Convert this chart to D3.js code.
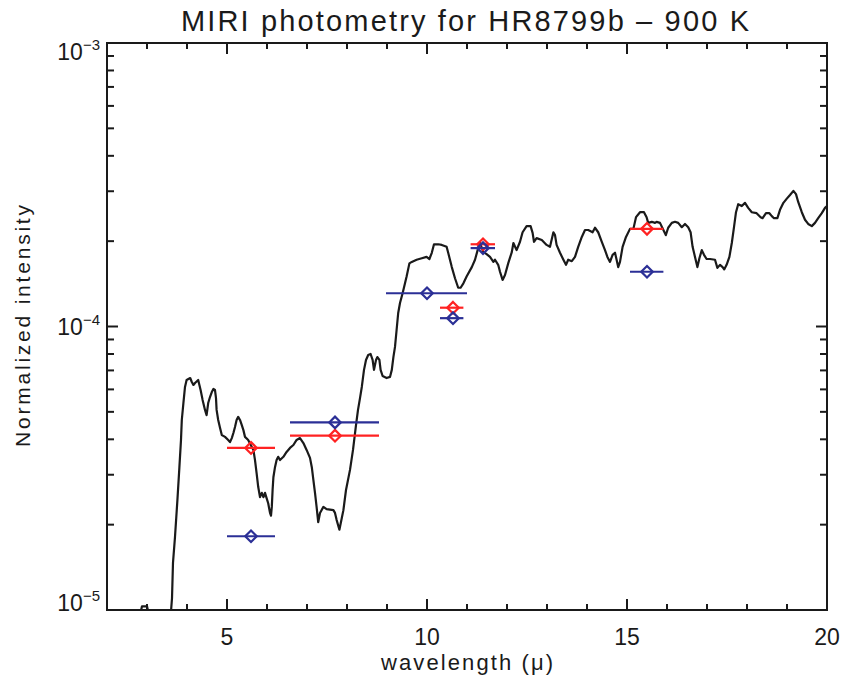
<!DOCTYPE html>
<html>
<head>
<meta charset="utf-8">
<script src="https://cdn.jsdelivr.net/npm/d3@7"></script>
<style>
  body { margin: 0; background: #fff; }
  svg { display: block; font-family: "Liberation Sans", Arial, sans-serif; }
</style>
</head>
<body>
<svg id="chart" width="844" height="683"></svg>
<script>
// model spectrum, 900 K (wavelength in micron, normalized intensity)
var wavelength = [2.0, 2.825, 2.875, 3.0, 3.05, 3.575, 3.625, 3.65, 3.70, 3.76, 3.81, 3.85, 3.87, 3.91, 3.95, 3.99,
  4.08, 4.12, 4.16, 4.20, 4.28, 4.31, 4.34, 4.39, 4.45, 4.49, 4.53, 4.575, 4.62, 4.66, 4.70, 4.725, 4.74, 4.78,
  4.825, 4.87, 4.95, 5.03, 5.075, 5.12, 5.16, 5.20, 5.24, 5.28, 5.325, 5.37, 5.41, 5.45, 5.53, 5.62, 5.66, 5.70,
  5.74, 5.78, 5.825, 5.87, 5.91, 5.95, 5.99, 6.03, 6.075, 6.10, 6.12, 6.14, 6.16, 6.20, 6.24, 6.28, 6.325, 6.41,
  6.49, 6.575, 6.66, 6.74, 6.825, 6.91, 6.99, 7.075, 7.12, 7.16, 7.20, 7.24, 7.28, 7.325, 7.41, 7.49, 7.66, 7.70,
  7.74, 7.81, 7.87, 7.91, 7.975, 8.075, 8.15, 8.225, 8.275, 8.325, 8.37, 8.425, 8.475, 8.53, 8.59, 8.64, 8.675,
  8.725, 8.76, 8.81, 8.84, 8.89, 8.99, 9.075, 9.12, 9.16, 9.20, 9.24, 9.28, 9.325, 9.39, 9.45, 9.49, 9.56, 9.62,
  9.74, 9.87, 9.99, 10.06, 10.12, 10.175, 10.28, 10.37, 10.49, 10.53, 10.62, 10.70, 10.78, 10.84, 10.91, 10.99,
  11.12, 11.20, 11.28, 11.325, 11.41, 11.49, 11.575, 11.66, 11.70, 11.78, 11.825, 11.89, 11.95, 12.03, 12.12,
  12.16, 12.24, 12.325, 12.39, 12.49, 12.59, 12.64, 12.675, 12.74, 12.87, 12.99, 13.075, 13.16, 13.20, 13.24,
  13.325, 13.41, 13.475, 13.53, 13.62, 13.70, 13.78, 13.87, 13.95, 14.03, 14.14, 14.20, 14.28, 14.37, 14.45,
  14.51, 14.575, 14.64, 14.70, 14.74, 14.78, 14.825, 14.89, 14.975, 15.075, 15.16, 15.225, 15.325, 15.425, 15.49,
  15.53, 15.62, 15.70, 15.74, 15.825, 15.91, 15.97, 16.03, 16.12, 16.20, 16.28, 16.37, 16.45, 16.53, 16.59, 16.64,
  16.70, 16.76, 16.81, 16.87, 16.925, 16.99, 17.075, 17.20, 17.26, 17.325, 17.39, 17.43, 17.49, 17.56, 17.62,
  17.675, 17.725, 17.78, 17.87, 17.95, 18.03, 18.12, 18.24, 18.34, 18.39, 18.475, 18.56, 18.62, 18.675, 18.76,
  18.825, 18.91, 18.99, 19.075, 19.16, 19.225, 19.28, 19.37, 19.45, 19.53, 19.62, 19.70, 19.78, 19.87, 19.95, 20.0];
var intensity = [7.8e-6, 9.6e-6, 1.03e-5, 1.03e-5, 9.6e-6, 8.9e-6, 1.10e-5, 1.47e-5, 1.81e-5, 2.44e-5, 3.19e-5,
  3.98e-5, 4.68e-5, 5.37e-5, 6.12e-5, 6.48e-5, 6.58e-5, 6.37e-5, 6.22e-5, 6.32e-5, 6.48e-5, 6.22e-5, 5.97e-5,
  5.51e-5, 5.08e-5, 4.87e-5, 5.37e-5, 5.64e-5, 5.87e-5, 6.02e-5, 5.97e-5, 5.59e-5, 5.08e-5, 4.68e-5, 4.39e-5,
  4.14e-5, 4.08e-5, 3.98e-5, 3.91e-5, 4.04e-5, 4.21e-5, 4.42e-5, 4.68e-5, 4.80e-5, 4.68e-5, 4.49e-5, 4.31e-5,
  4.08e-5, 3.98e-5, 3.76e-5, 3.67e-5, 3.38e-5, 3.04e-5, 2.72e-5, 2.50e-5, 2.59e-5, 2.50e-5, 2.59e-5, 2.48e-5,
  2.38e-5, 2.20e-5, 2.15e-5, 2.31e-5, 2.65e-5, 2.94e-5, 3.19e-5, 3.38e-5, 3.47e-5, 3.38e-5, 3.47e-5, 3.61e-5,
  3.73e-5, 3.82e-5, 3.98e-5, 4.04e-5, 3.88e-5, 3.67e-5, 3.44e-5, 3.19e-5, 2.87e-5, 2.59e-5, 2.31e-5, 2.04e-5,
  2.20e-5, 2.31e-5, 2.27e-5, 2.25e-5, 2.20e-5, 2.08e-5, 1.92e-5, 2.11e-5, 2.25e-5, 2.65e-5, 3.12e-5, 3.67e-5,
  4.49e-5, 5.08e-5, 5.59e-5, 6.12e-5, 7.03e-5, 7.62e-5, 7.93e-5, 8.00e-5, 7.62e-5, 7.03e-5, 7.62e-5, 7.80e-5,
  7.62e-5, 7.03e-5, 6.69e-5, 6.58e-5, 6.64e-5, 7.03e-5, 7.80e-5, 8.47e-5, 9.72e-5, 1.116e-4, 1.21e-4, 1.31e-4,
  1.42e-4, 1.50e-4, 1.67e-4, 1.69e-4, 1.72e-4, 1.74e-4, 1.76e-4, 1.73e-4, 1.82e-4, 1.95e-4, 1.95e-4, 1.94e-4,
  1.91e-4, 1.82e-4, 1.62e-4, 1.48e-4, 1.37e-4, 1.37e-4, 1.42e-4, 1.50e-4, 1.62e-4, 1.72e-4, 1.89e-4, 1.97e-4,
  1.83e-4, 1.80e-4, 1.76e-4, 1.69e-4, 1.72e-4, 1.65e-4, 1.56e-4, 1.46e-4, 1.52e-4, 1.67e-4, 1.83e-4, 1.97e-4,
  1.86e-4, 1.99e-4, 2.15e-4, 2.26e-4, 2.26e-4, 2.14e-4, 1.99e-4, 2.05e-4, 2.02e-4, 1.94e-4, 1.91e-4, 2.15e-4,
  2.10e-4, 1.94e-4, 1.82e-4, 1.72e-4, 1.65e-4, 1.72e-4, 1.70e-4, 1.76e-4, 1.91e-4, 2.07e-4, 2.19e-4, 2.19e-4,
  2.15e-4, 2.23e-4, 2.15e-4, 1.99e-4, 1.86e-4, 1.76e-4, 1.69e-4, 1.79e-4, 1.82e-4, 1.72e-4, 1.62e-4, 1.69e-4,
  1.91e-4, 2.07e-4, 2.21e-4, 2.21e-4, 2.43e-4, 2.53e-4, 2.53e-4, 2.43e-4, 2.32e-4, 2.34e-4, 2.32e-4, 2.34e-4,
  2.32e-4, 2.19e-4, 2.10e-4, 2.23e-4, 2.32e-4, 2.34e-4, 2.32e-4, 2.24e-4, 2.30e-4, 2.24e-4, 2.15e-4, 1.91e-4,
  1.76e-4, 1.62e-4, 1.74e-4, 1.86e-4, 1.79e-4, 1.73e-4, 1.73e-4, 1.72e-4, 1.61e-4, 1.65e-4, 1.62e-4, 1.59e-4,
  1.65e-4, 1.76e-4, 1.97e-4, 2.24e-4, 2.53e-4, 2.70e-4, 2.66e-4, 2.73e-4, 2.62e-4, 2.53e-4, 2.51e-4, 2.43e-4,
  2.41e-4, 2.51e-4, 2.51e-4, 2.45e-4, 2.41e-4, 2.41e-4, 2.58e-4, 2.73e-4, 2.82e-4, 2.91e-4, 3.01e-4, 2.93e-4,
  2.75e-4, 2.53e-4, 2.38e-4, 2.30e-4, 2.26e-4, 2.32e-4, 2.41e-4, 2.51e-4, 2.62e-4, 2.66e-4];

// MIRI filters: centre and band edges (micron)
var filterCenter = [5.6, 7.7, 10.0, 10.65, 11.4, 15.5];
var filterLo     = [5.0, 6.575, 8.975, 10.325, 11.09, 15.075];
var filterHi     = [6.2, 8.8, 11.0, 10.91, 11.7, 15.91];
// photometry, two series (null = not plotted)
var redFlux  = [3.73e-5, 4.12e-5, null, 1.165e-4, 1.95e-4, 2.21e-4];
var blueFlux = [1.82e-5, 4.59e-5, 1.31e-4, 1.07e-4, 1.89e-4, 1.56e-4];

var xTickLabels = [5, 10, 15, 20];
var yDecades = [1e-5, 1e-4, 1e-3];

var svg = d3.select("#chart"),
    width = 844,
    height = 683,
    margin = {top: 43, right: 17, bottom: 73, left: 107},
    ink = "#1a1a1a";

var x = d3.scaleLinear().domain([2, 20]).range([margin.left, width - margin.right]);
var y = d3.scaleLog().domain([1e-5, 1e-3]).range([height - margin.bottom, margin.top]);

svg.append("defs").append("clipPath").attr("id", "plotclip")
  .append("rect")
    .attr("x", x(2)).attr("y", y(1e-3))
    .attr("width", x(20) - x(2)).attr("height", y(1e-5) - y(1e-3));

// spectrum
var spectrum = wavelength.map(function(w, i) { return [w, intensity[i]]; });
svg.append("path")
    .datum(spectrum)
    .attr("clip-path", "url(#plotclip)")
    .attr("fill", "none")
    .attr("stroke", ink)
    .attr("stroke-width", 2.2)
    .attr("stroke-linejoin", "round")
    .attr("d", d3.line()
      .x(function(d) { return x(d[0]); })
      .y(function(d) { return y(d[1]); }));

function drawPhot(values, colour) {
  var g = svg.append("g").attr("stroke", colour).attr("fill", "none").attr("stroke-width", 2.2);
  values.forEach(function(v, i) {
    if (v == null) return;
    var cx = x(filterCenter[i]), cy = y(v);
    g.append("line")
      .attr("x1", x(filterLo[i])).attr("x2", x(filterHi[i]))
      .attr("y1", cy).attr("y2", cy);
    g.append("path")
      .attr("d", d3.symbol().type(d3.symbolDiamond2).size(85)())
      .attr("transform", "translate(" + cx + "," + cy + ")");
  });
}
drawPhot(redFlux, "#ff2222");
drawPhot(blueFlux, "#2b2f96");

// box with inward ticks
var axes = svg.append("g").attr("stroke", ink).attr("stroke-width", 2);
axes.append("rect")
    .attr("x", x(2)).attr("y", y(1e-3))
    .attr("width", x(20) - x(2)).attr("height", y(1e-5) - y(1e-3))
    .attr("fill", "none");

d3.range(3, 20).forEach(function(t) {
  var len = t % 5 === 0 ? 11 : 6;
  axes.append("line").attr("x1", x(t)).attr("x2", x(t)).attr("y1", y(1e-5)).attr("y2", y(1e-5) - len);
  axes.append("line").attr("x1", x(t)).attr("x2", x(t)).attr("y1", y(1e-3)).attr("y2", y(1e-3) + len);
});

y.ticks().forEach(function(t) {
  var major = Math.abs(Math.log10(t) - Math.round(Math.log10(t))) < 1e-6;
  if (major) return;
  var len = 7;
  axes.append("line").attr("x1", x(2)).attr("x2", x(2) + len).attr("y1", y(t)).attr("y2", y(t));
  axes.append("line").attr("x1", x(20)).attr("x2", x(20) - len).attr("y1", y(t)).attr("y2", y(t));
});
// the middle decade gets a long tick
[1e-4].forEach(function(t) {
  axes.append("line").attr("x1", x(2)).attr("x2", x(2) + 11).attr("y1", y(t)).attr("y2", y(t));
  axes.append("line").attr("x1", x(20)).attr("x2", x(20) - 11).attr("y1", y(t)).attr("y2", y(t));
});

// tick labels
svg.append("g").selectAll("text")
  .data(xTickLabels)
  .join("text")
    .attr("x", function(d) { return x(d); })
    .attr("y", height - margin.bottom + 35)
    .attr("text-anchor", "middle")
    .attr("font-size", 23)
    .attr("fill", ink)
    .text(function(d) { return d; });

var ylab = svg.append("g").selectAll("text")
  .data(yDecades)
  .join("text")
    .attr("x", x(2) - 7)
    .attr("y", function(d) {
      return Math.max(y(1e-3) + 17, Math.min(y(1e-5) + 1, y(d) + 8));
    })
    .attr("text-anchor", "end")
    .attr("font-size", 23)
    .attr("fill", ink);
ylab.append("tspan").text("10");
ylab.append("tspan")
    .attr("font-size", 15)
    .attr("dy", -10)
    .text(function(d) { return "\u2212" + Math.round(-Math.log10(d)); });

// titles
svg.append("text")
    .attr("x", 465).attr("y", 31)
    .attr("text-anchor", "middle")
    .attr("font-size", 29)
    .attr("fill", ink)
    .attr("textLength", 568)
    .attr("lengthAdjust", "spacing")
    .text("MIRI photometry for HR8799b \u2013 900 K");

svg.append("text")
    .attr("x", 467).attr("y", 670)
    .attr("text-anchor", "middle")
    .attr("font-size", 22)
    .attr("fill", ink)
    .attr("textLength", 172)
    .attr("lengthAdjust", "spacing")
    .text("wavelength (\u03bc)");

svg.append("text")
    .attr("transform", "translate(30," + 326 + ") rotate(-90)")
    .attr("text-anchor", "middle")
    .attr("font-size", 21)
    .attr("fill", ink)
    .attr("textLength", 242)
    .attr("lengthAdjust", "spacing")
    .text("Normalized intensity");
</script>
</body>
</html>
